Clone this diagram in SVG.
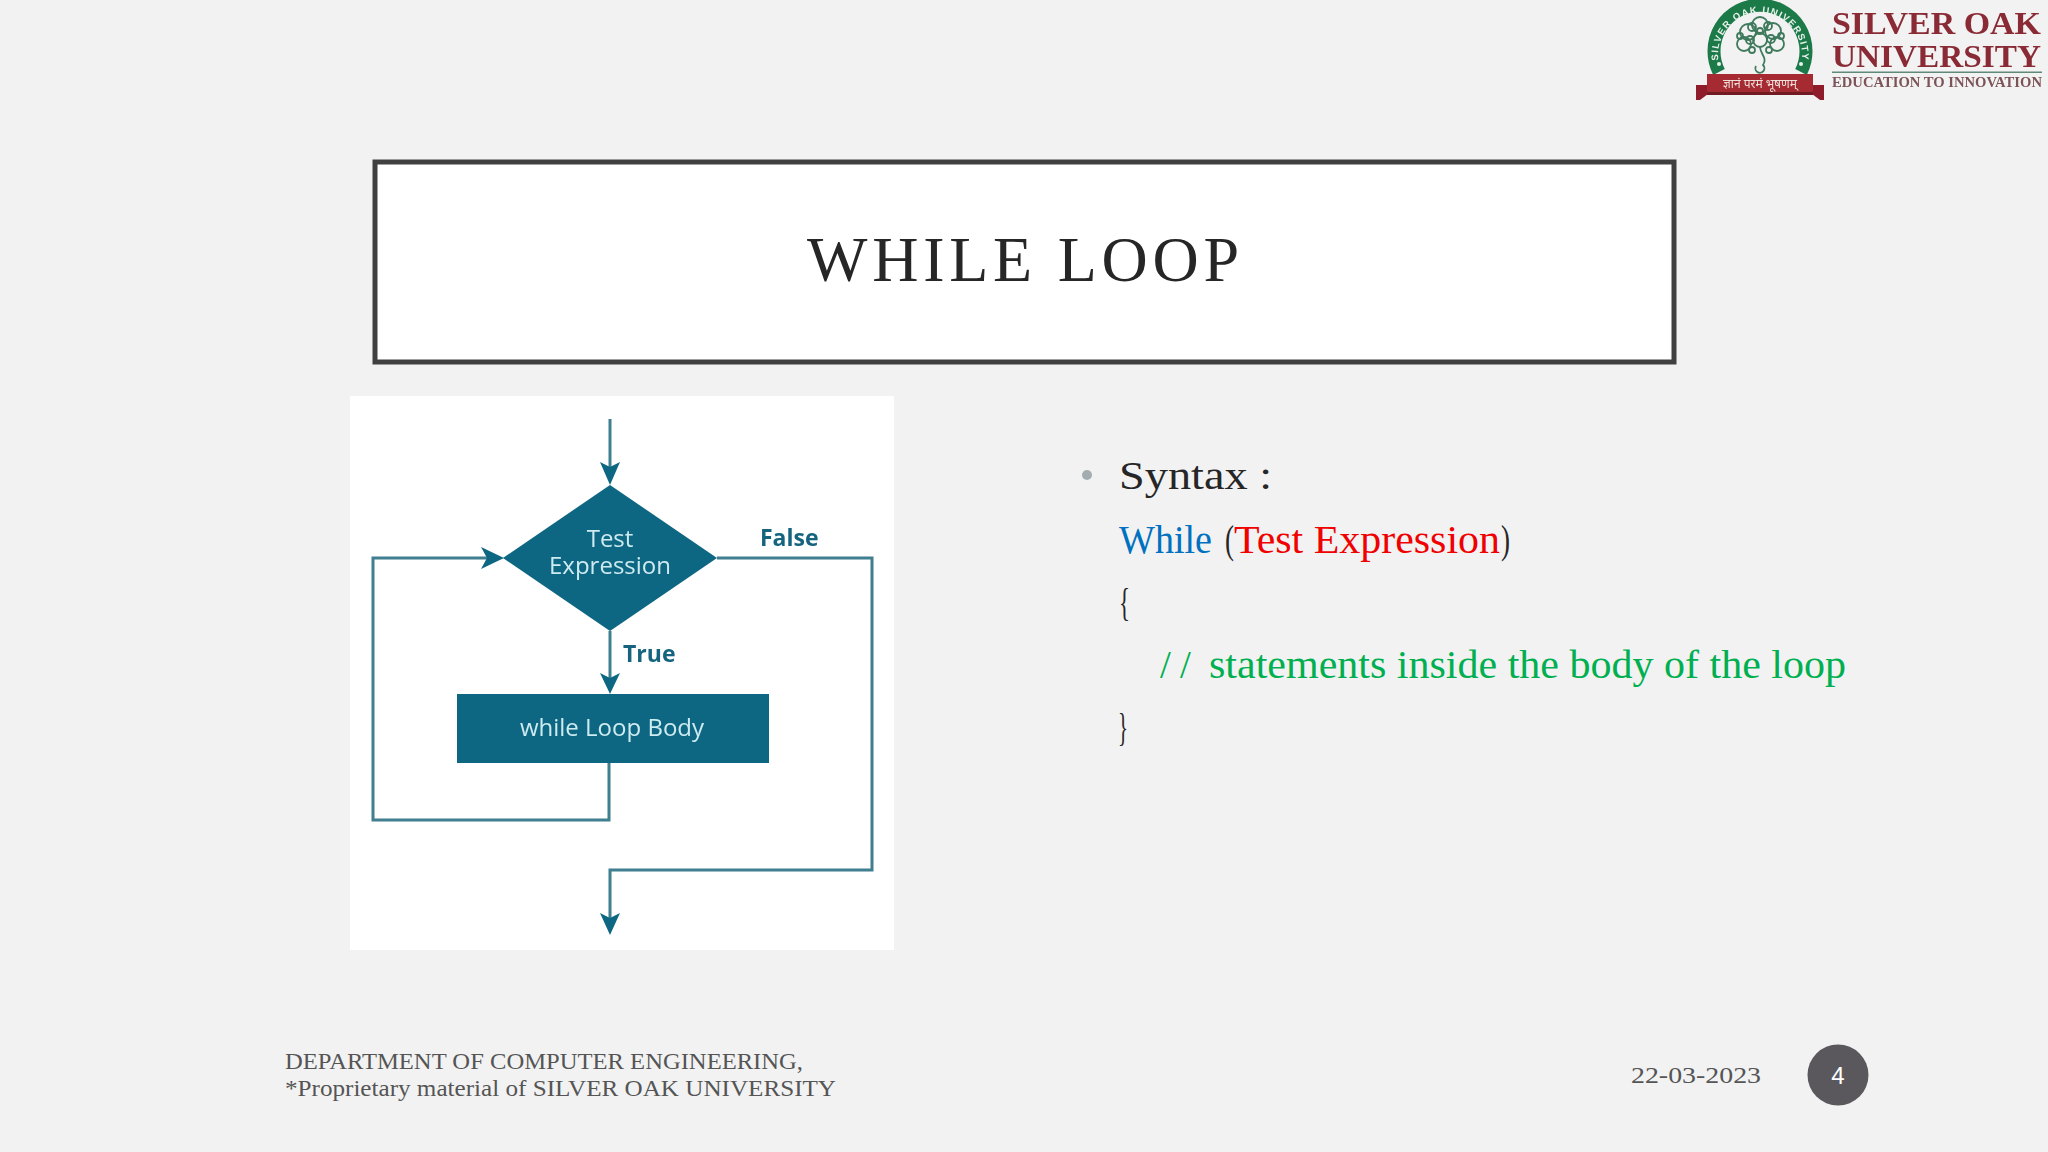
<svg xmlns="http://www.w3.org/2000/svg" xmlns:xlink="http://www.w3.org/1999/xlink" width="2048" height="1152" viewBox="0 0 2048 1152">
<style>
.s{font-family:"Liberation Serif","Noto Serif",serif}
.o{font-family:"Open Sans",sans-serif;fill:#cdebf0;font-size:24px;text-anchor:middle}
.b{font-family:"Open Sans",sans-serif;font-weight:700;fill:#14647f;font-size:23px}
.c{fill:none;stroke:#3f7f90;stroke-width:3}
.a{fill:#0e6682}
.body{font-size:39px}
.f{font-size:24px;fill:#555}
.t{fill:none;stroke:#3f7a5c;stroke-width:1.800}
</style>
<defs>
<path id="arc" d="M1722,73 A42,42 0 1 1 1798,73"/>
<filter id="soft" x="-5%" y="-5%" width="110%" height="110%"><feGaussianBlur stdDeviation="0.5"/></filter>
</defs>
<rect width="2048" height="1152" fill="#f2f2f3"/>
<g id="logo" filter="url(#soft)">
<path d="M1719,72 A46,46 0 1 1 1801,72" fill="none" stroke="#1d7a4a" stroke-width="13"/>
<text font-size="9.5" font-weight="700" fill="#e8f2ea" letter-spacing="1.2" text-anchor="middle" style="font-family:'Liberation Sans',sans-serif"><textPath xlink:href="#arc" startOffset="50%">SILVER OAK UNIVERSITY</textPath></text>
<circle cx="1719" cy="64" r="2" fill="#e8f2ea"/>
<circle cx="1801" cy="64" r="2" fill="#e8f2ea"/>
<g class="t">
<circle cx="1748" cy="32" r="8"/><circle cx="1760" cy="25" r="8"/><circle cx="1773" cy="31" r="8"/><circle cx="1744" cy="44" r="7"/><circle cx="1777" cy="44" r="7"/><circle cx="1760" cy="40" r="7"/>
<circle cx="1752" cy="27" r="4"/><circle cx="1768" cy="26" r="4"/><circle cx="1750" cy="40" r="4"/><circle cx="1771" cy="39" r="4"/><circle cx="1760" cy="31" r="3"/><circle cx="1740" cy="36" r="3"/><circle cx="1781" cy="36" r="3"/><circle cx="1752" cy="50" r="3"/><circle cx="1769" cy="50" r="3"/>
<path d="M1760,47 C1760,54 1768,58 1763,65 A4.500,4.500 0 1 1 1756,66"/>
</g>
<polygon points="1696,85 1708,85 1708,94 1700,100 1696,100" fill="#8f1f2a"/>
<polygon points="1824,85 1812,85 1812,94 1820,100 1824,100" fill="#8f1f2a"/>
<rect x="1707" y="74" width="106" height="18" fill="#a52a33"/>
<rect x="1707" y="92" width="106" height="3" fill="#6f1a22"/>
<text x="1760" y="88" text-anchor="middle" font-size="12" fill="#eeded8" style="font-family:'Noto Sans',sans-serif">ज्ञानं परमं भूषणम्</text>
<g class="s" font-weight="700">
<text x="1832" y="34" font-size="31" fill="#8a2c36" textLength="209" lengthAdjust="spacingAndGlyphs">SILVER OAK</text>
<text x="1832" y="67" font-size="32" fill="#8a2c36" textLength="209" lengthAdjust="spacingAndGlyphs">UNIVERSITY</text>
<text x="1832" y="87" font-size="14" fill="#7c5257" textLength="210" lengthAdjust="spacingAndGlyphs">EDUCATION TO INNOVATION</text>
</g>
<rect x="1832" y="71.500" width="210" height="1.500" fill="#5f8a78"/>
</g>
<g id="title">
<rect x="375" y="162" width="1299" height="200" fill="#fff" stroke="#404040" stroke-width="5"/>
<text class="s" x="807" y="281" font-size="64" fill="#262626" textLength="432" lengthAdjust="spacing">WHILE LOOP</text>
</g>
<rect x="350" y="396" width="544" height="554" fill="#fff"/>
<g filter="url(#soft)">
<g id="connectors">
<path class="c" d="M610,419V470"/>
<path class="c" d="M610,631V680"/>
<path class="c" d="M609,763V820H373V558H490"/>
<path class="c" d="M717,558H872V870H610V920"/>
<polygon class="a" points="600,462 610,467 620,462 610,485"/>
<polygon class="a" points="600,673 610,678 620,673 610,694"/>
<polygon class="a" points="600,913 610,918 620,913 610,935"/>
<polygon class="a" points="481,547 487,558 481,569 504,558"/>
</g>
<g id="test-expression">
<polygon class="a" points="610,485 717,558 610,631 503,558"/>
<text class="o" x="610" y="547">Test</text>
<text class="o" x="610" y="574">Expression</text>
</g>
<g id="loop-body">
<rect class="a" x="457" y="694" width="312" height="69"/>
<text class="o" x="612" y="736">while Loop Body</text>
</g>
<text class="b" x="760" y="546">False</text>
<text class="b" x="623" y="662">True</text>
</g>
<g id="syntax" class="s body">
<circle cx="1087" cy="475" r="5" fill="#a3adb0"/>
<text x="1119" y="489" fill="#262626" textLength="153" lengthAdjust="spacingAndGlyphs">Syntax :</text>
<text x="1119" y="553" fill="#0070c0" textLength="93" lengthAdjust="spacingAndGlyphs">While</text>
<text x="1225" y="553" fill="#262626" textLength="9" lengthAdjust="spacingAndGlyphs">(</text>
<text x="1234" y="553" fill="#f00000" textLength="266" lengthAdjust="spacingAndGlyphs">Test Expression</text>
<text x="1501" y="553" fill="#262626" textLength="9" lengthAdjust="spacingAndGlyphs">)</text>
<text x="1119" y="616" fill="#262626" textLength="11" lengthAdjust="spacingAndGlyphs">{</text>
<text x="1160" y="678" fill="#00b050">/</text>
<text x="1180" y="678" fill="#00b050">/</text>
<text x="1209" y="678" fill="#00b050" textLength="637" lengthAdjust="spacingAndGlyphs">statements inside the body of the loop</text>
<text x="1118" y="741" fill="#262626" textLength="10" lengthAdjust="spacingAndGlyphs">}</text>
</g>
<g id="footer" class="s">
<text class="f" x="285" y="1069" textLength="518" lengthAdjust="spacingAndGlyphs">DEPARTMENT OF COMPUTER ENGINEERING,</text>
<text class="f" x="285" y="1096" textLength="551" lengthAdjust="spacingAndGlyphs">*Proprietary material of SILVER OAK UNIVERSITY</text>
<text class="f" x="1631" y="1083" textLength="130" lengthAdjust="spacingAndGlyphs">22-03-2023</text>
</g>
<g id="page">
<circle cx="1838" cy="1075" r="30.500" fill="#5a585c"/>
<text x="1838" y="1084" font-size="24" text-anchor="middle" fill="#fff" style="font-family:'Liberation Sans',sans-serif">4</text>
</g>
</svg>
